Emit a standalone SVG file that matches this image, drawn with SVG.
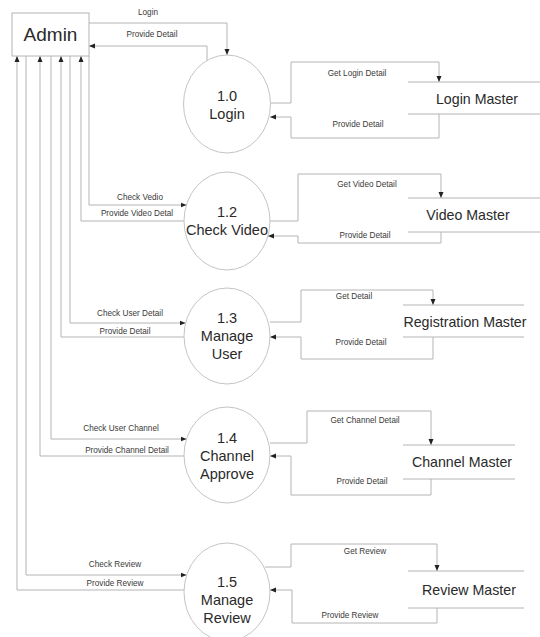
<svg xmlns="http://www.w3.org/2000/svg" width="540" height="637" viewBox="0 0 540 637">
<defs>
<marker id="arr" markerWidth="6" markerHeight="6" refX="6" refY="3" orient="auto" markerUnits="userSpaceOnUse">
<path d="M0,0.5 L6,3 L0,5.5 z" fill="#222"/>
</marker>
<style>
.bg{fill:#fff}
.c{fill:none;stroke:#b4b4b4;stroke-width:1;marker-end:url(#arr)}
.st{stroke:#b4b4b4;stroke-width:1}
.p{fill:#fff;stroke:#c4c4c4;stroke-width:1}
.lbl{font-family:"Liberation Sans",Arial,sans-serif;font-size:8.2px;fill:#3a3a3a;text-anchor:middle}
.pt{font-family:"Liberation Sans",Arial,sans-serif;font-size:14.5px;fill:#2a2a2a;text-anchor:middle}
.sn{font-family:"Liberation Sans",Arial,sans-serif;font-size:14.2px;fill:#2a2a2a;text-anchor:middle}
</style>
</defs>
<rect class="bg" x="0" y="0" width="540" height="637"/>

<g id="connectors">
<path class="c" d="M89,23 H227 V55"/>
<path class="c" d="M207,60.5 V46 H89"/>
<path class="c" d="M270.5,103 H291 V62 H439 V82"/>
<path class="c" d="M439,114 V138 H291 V117 H270"/>

<path class="c" d="M89,56 V205 H186.5"/>
<path class="c" d="M184,221 H81 V56"/>
<path class="c" d="M270,221 H298 V174 H441 V198"/>
<path class="c" d="M441,232 V243 H298 V236 H268"/>

<path class="c" d="M70,56 V323 H185.5"/>
<path class="c" d="M184,337 H61 V56"/>
<path class="c" d="M270,322 H301 V290 H433 V305"/>
<path class="c" d="M433,337 V359 H301 V337 H270"/>

<path class="c" d="M51,56 V439 H186.5"/>
<path class="c" d="M184,456 H40 V56"/>
<path class="c" d="M270,443 H307 V411 H431 V445"/>
<path class="c" d="M431,479 V495 H291 V456 H270"/>

<path class="c" d="M26,56 V575 H186.5"/>
<path class="c" d="M184,590 H17 V56"/>
<path class="c" d="M265,567 H291 V544 H437 V571"/>
<path class="c" d="M437,608 V623 H292 V590 H270"/>

<text class="lbl" x="148" y="15">Login</text>
<text class="lbl" x="152" y="37">Provide Detail</text>
<text class="lbl" x="357" y="76">Get Login Detail</text>
<text class="lbl" x="358" y="127">Provide Detail</text>

<text class="lbl" x="140" y="200">Check Vedio</text>
<text class="lbl" x="137" y="216">Provide Video Detal</text>
<text class="lbl" x="367" y="187">Get Video Detail</text>
<text class="lbl" x="365" y="238">Provide Detail</text>

<text class="lbl" x="130" y="316">Check User Detail</text>
<text class="lbl" x="125" y="334">Provide Detail</text>
<text class="lbl" x="354" y="299">Get Detail</text>
<text class="lbl" x="361" y="345">Provide Detail</text>

<text class="lbl" x="121" y="431">Check User Channel</text>
<text class="lbl" x="127" y="453">Provide Channel Detail</text>
<text class="lbl" x="365" y="423">Get Channel Detail</text>
<text class="lbl" x="362" y="484">Provide Detail</text>

<text class="lbl" x="115" y="567">Check Review</text>
<text class="lbl" x="115" y="586">Provide Review</text>
<text class="lbl" x="365" y="554">Get Review</text>
<text class="lbl" x="350" y="618">Provide Review</text>
</g>

<g id="admin">
<rect x="12" y="13" width="77" height="43" fill="#fff" stroke="#b4b4b4" stroke-width="1"/>
<text x="50.5" y="41" font-family="Liberation Sans, Arial, sans-serif" font-size="19" fill="#2a2a2a" text-anchor="middle">Admin</text>
</g>

<g id="p1_0">
<ellipse class="p" cx="227" cy="104" rx="43.5" ry="49"/>
<text class="pt" x="227" y="101">1.0</text>
<text class="pt" x="227" y="119">Login</text>
</g>

<g id="p1_2">
<ellipse class="p" cx="227" cy="221" rx="43" ry="49"/>
<text class="pt" x="227" y="217">1.2</text>
<text class="pt" x="227" y="235" font-size="15.5">Check Video</text>
</g>

<g id="p1_3">
<ellipse class="p" cx="227" cy="336" rx="43" ry="48"/>
<text class="pt" x="227" y="323">1.3</text>
<text class="pt" x="227" y="341">Manage</text>
<text class="pt" x="227" y="359">User</text>
</g>

<g id="p1_4">
<ellipse class="p" cx="227" cy="455" rx="43" ry="48"/>
<text class="pt" x="227" y="443">1.4</text>
<text class="pt" x="227" y="461">Channel</text>
<text class="pt" x="227" y="479">Approve</text>
</g>

<g id="p1_5">
<ellipse class="p" cx="227" cy="592" rx="43" ry="49"/>
<text class="pt" x="227" y="587">1.5</text>
<text class="pt" x="227" y="605">Manage</text>
<text class="pt" x="227" y="623">Review</text>
</g>

<g id="login_master">
<line class="st" x1="408" y1="82" x2="540" y2="82"/>
<line class="st" x1="408" y1="114" x2="540" y2="114"/>
<text class="sn" x="477" y="104">Login Master</text>
</g>

<g id="video_master">
<line class="st" x1="408" y1="198" x2="540" y2="198"/>
<line class="st" x1="408" y1="232" x2="540" y2="232"/>
<text class="sn" x="468" y="220">Video Master</text>
</g>

<g id="registration_master">
<line class="st" x1="403" y1="305" x2="524" y2="305"/>
<line class="st" x1="403" y1="337" x2="524" y2="337"/>
<text class="sn" x="465" y="327">Registration Master</text>
</g>

<g id="channel_master">
<line class="st" x1="403" y1="445" x2="515" y2="445"/>
<line class="st" x1="403" y1="479" x2="515" y2="479"/>
<text class="sn" x="462" y="467">Channel Master</text>
</g>

<g id="review_master">
<line class="st" x1="408" y1="571" x2="524" y2="571"/>
<line class="st" x1="408" y1="608" x2="524" y2="608"/>
<text class="sn" x="469" y="595">Review Master</text>
</g>
</svg>
